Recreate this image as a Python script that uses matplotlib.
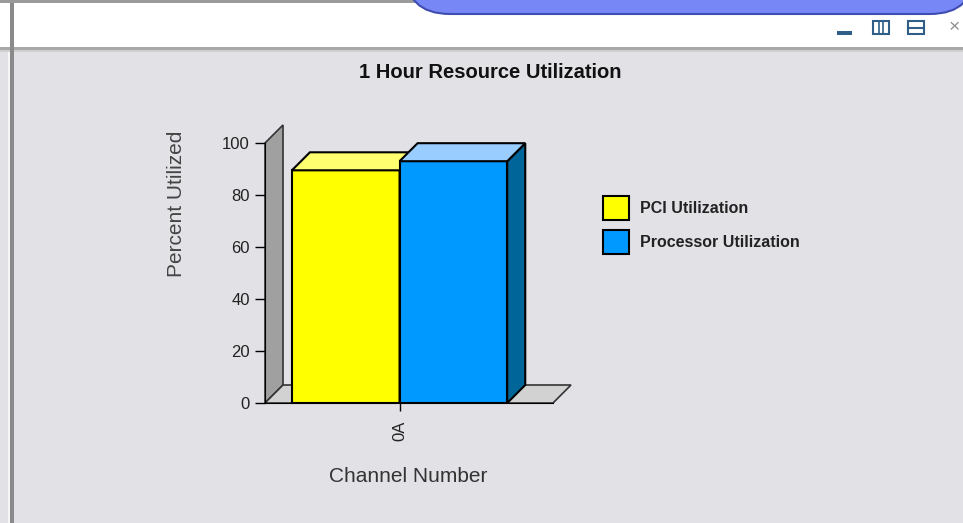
import matplotlib
matplotlib.use("Agg")
import matplotlib.pyplot as plt
from matplotlib.patches import Polygon, Rectangle, FancyBboxPatch
import numpy as np

# datos
canales = ["0A"]
pci = [89.5]
procesador = [93]
series = ["PCI Utilization", "Processor Utilization"]
colores_frente = ["#ffff00", "#0099ff"]
colores_arriba = ["#ffff70", "#99ccff"]
colores_lado = ["#c8c800", "#006699"]
yticks = [0, 20, 40, 60, 80, 100]

plt.rcParams["font.family"] = ["Liberation Sans", "DejaVu Sans"]

W, H = 963, 523
fig = plt.figure(figsize=(W / 100, H / 100), dpi=100)
fig.patch.set_facecolor("white")

#* fondo / ventana (coordenadas en pixeles)
bg = fig.add_axes([0, 0, 1, 1], zorder=0)
bg.set_xlim(0, W)
bg.set_ylim(H, 0)
bg.axis("off")
bg.add_patch(Rectangle((0, 52), W, H - 52, color="#e1e1e6", lw=0))
bg.add_patch(Rectangle((0, 0), W, 3, color="#9a9a9a", lw=0))
bg.add_patch(Rectangle((0, 47), W, 3, color="#a8a8a8", lw=0))
bg.add_patch(Rectangle((0, 50), W, 2, color="#d0d0d0", lw=0))
bg.add_patch(Rectangle((8, 52), 2, H, color="#f6f6f6", lw=0))
bg.add_patch(Rectangle((10, 3), 4, H, color="#8a8a8a", lw=0))
# burbuja azul de arriba
bg.add_patch(FancyBboxPatch((405, -60), 570, 74,
                            boxstyle="round,pad=0,rounding_size=45",
                            fc="#7787f6", ec="#3f4db0", lw=1.5))
# iconos de la ventana
azul = "#2f5f88"
bg.add_patch(Rectangle((837, 31), 15, 4, color=azul, lw=0))
bg.add_patch(Rectangle((873, 21), 16, 13, fc="none", ec=azul, lw=1.5))
bg.plot([879, 879], [21, 34], color=azul, lw=1.2)
bg.plot([883, 883], [21, 34], color=azul, lw=1.2)
bg.add_patch(Rectangle((908, 21), 16, 13, fc="none", ec=azul, lw=1.5))
bg.plot([908, 924], [27.5, 27.5], color=azul, lw=1.5)
bg.text(954, 28, "×", fontsize=14, color="#909090", ha="center", va="center")

#* grafico principal
x0_px, x1_px, y0_px, y100_px = 265, 553, 403, 143
ax = fig.add_axes([x0_px / W, 1 - y0_px / H, (x1_px - x0_px) / W, (y0_px - y100_px) / H],
                  zorder=1)
ax.patch.set_alpha(0)
xmin, xmax = -0.5, 0.57
ax.set_xlim(xmin, xmax)
ax.set_ylim(0, 100)

prof_px = 18
dx = prof_px * (xmax - xmin) / (x1_px - x0_px)
dy = prof_px * 100 / (y0_px - y100_px)

# pared y piso
pared = Polygon([(xmin, 0), (xmin, 100), (xmin + dx, 100 + dy), (xmin + dx, dy)],
                closed=True, fc="#a0a0a0", ec="#333333", lw=1.2, clip_on=False, zorder=1)
piso = Polygon([(xmin, 0), (xmin + dx, dy), (xmax + dx, dy), (xmax, 0)],
               closed=True, fc="#d2d2d2", ec="#333333", lw=1.2, clip_on=False, zorder=1)
ax.add_patch(pared)
ax.add_patch(piso)

x = np.arange(len(canales))
ancho = 0.4
valores = [pci, procesador]
barras = []
for i, vals in enumerate(valores):
    pos = x - ancho + i * ancho
    b = ax.bar(pos, vals, ancho, align="edge", color=colores_frente[i],
               edgecolor="black", lw=1.5, label=series[i], zorder=3 + i)
    barras.append(b)
    for xi, h in zip(pos, vals):
        xa, xb = xi, xi + ancho
        arriba = Polygon([(xa, h), (xb, h), (xb + dx, h + dy), (xa + dx, h + dy)],
                         closed=True, fc=colores_arriba[i], ec="black", lw=1.5,
                         clip_on=False, zorder=3 + i)
        lado = Polygon([(xb, 0), (xb, h), (xb + dx, h + dy), (xb + dx, dy)],
                       closed=True, fc=colores_lado[i], ec="black", lw=1.5,
                       clip_on=False, zorder=3 + i)
        ax.add_patch(lado)
        ax.add_patch(arriba)

ax.spines["top"].set_visible(False)
ax.spines["right"].set_visible(False)
ax.spines["left"].set_zorder(2)
ax.spines["bottom"].set_zorder(2)
ax.set_yticks(yticks)
ax.set_xticks(x)
ax.set_xticklabels(canales, rotation=90)
ax.tick_params(axis="y", length=7, width=1, pad=4, labelsize=12, labelcolor="#222222")
ax.tick_params(axis="x", length=6, width=1, pad=7, labelsize=12, labelcolor="#222222")

fig.text(490 / W, 1 - 72 / H, "1 Hour Resource Utilization", fontsize=14.5,
         fontweight="bold", ha="center", va="center", color="#111111")
fig.text(177 / W, 1 - 204 / H, "Percent Utilized", fontsize=15, rotation=90,
         ha="center", va="center", color="#444444")
fig.text(408 / W, 1 - 476 / H, "Channel Number", fontsize=15,
         ha="center", va="center", color="#333333")

fig.legend(handles=barras, labels=series, loc="upper left",
           bbox_to_anchor=(603 / W, 1 - 196 / H), frameon=False,
           borderpad=0, borderaxespad=0, handlelength=1.6, handleheight=1.9,
           handletextpad=0.7, labelspacing=0.65,
           prop={"size": 11.5, "weight": "bold"}, labelcolor="#222222")

plt.savefig("out.png", dpi=100)
